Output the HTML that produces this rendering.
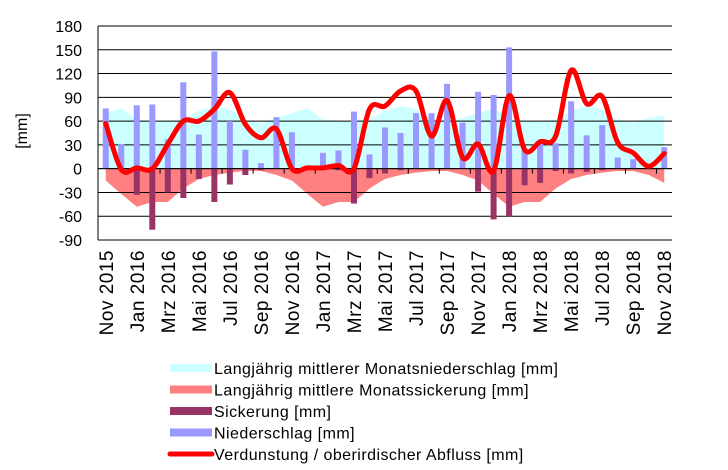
<!DOCTYPE html>
<html><head><meta charset="utf-8">
<style>
body{margin:0;background:#fff;font-family:"Liberation Sans",Arial,sans-serif;}
svg text{font-family:"Liberation Sans",Arial,sans-serif;}
</style></head>
<body>
<svg id="chart" width="728" height="465" xmlns="http://www.w3.org/2000/svg"></svg>
<script>
const months=["Nov 2015","Dez 2015","Jan 2016","Feb 2016","Mrz 2016","Apr 2016","Mai 2016","Jun 2016","Jul 2016","Aug 2016","Sep 2016","Okt 2016","Nov 2016","Dez 2016","Jan 2017","Feb 2017","Mrz 2017","Apr 2017","Mai 2017","Jun 2017","Jul 2017","Aug 2017","Sep 2017","Okt 2017","Nov 2017","Dez 2017","Jan 2018","Feb 2018","Mrz 2018","Apr 2018","Mai 2018","Jun 2018","Jul 2018","Aug 2018","Sep 2018","Okt 2018","Nov 2018"];
const niederschlag=[76,31,80,81,37,109,43,148,60,24,7,65,46,0,20,23,72,18,52,45,70,70,107,58,97,93,153,24,31,32,85,42,55,14,12,0,27];
const sickerung=[0,0,-33,-77,-30,-37,-13,-42,-20,-8,-2,0,0,0,0,-2,-44,-12,-6,-2,0,0,0,0,-29,-64,-60,-21,-18,-3,-6,-4,-2,0,0,0,0];
const verdunstung=[57,-1,1,0,31,60,60,75,96,56,39,50,0,1,1,4,0,75,79,98,98,41,86,14,31,-3,92,24,34,41,124,82,91,33,20,3,19];
const ltNiederschlag=[70,76,62,60,60,62,73,79,75,62,58,64,70,76,62,60,60,62,73,79,75,62,58,64,70,76,62,60,60,62,73,79,75,62,58,64,67];
const ltSickerung=[-15,-32,-48,-42,-42,-25,-13,-8,-5,-3,-3,-8,-15,-32,-48,-42,-42,-25,-13,-8,-5,-3,-3,-8,-15,-32,-48,-42,-42,-25,-13,-8,-5,-3,-3,-8,-18];
const yTicks=[180,150,120,90,60,30,0,-30,-60,-90];

const svg=document.getElementById('chart');
const NS="http://www.w3.org/2000/svg";
const L=98,R=672,T=26,B=240;
const n=months.length, cw=(R-L)/n;
const x=i=>L+cw*(i+0.5);
const y=v=>T+(180-v)*(B-T)/270;
function el(tag,attrs,parent){const e=document.createElementNS(NS,tag);for(const k in attrs)e.setAttribute(k,attrs[k]);(parent||svg).appendChild(e);return e;}

function area(vals,color,name){
  let d=`M${x(0)},${y(0)}`;
  vals.forEach((v,i)=>d+=` L${x(i)},${y(v)}`);
  d+=` L${x(n-1)},${y(0)} Z`;
  const p=el('path',{d:d,fill:color});
  
  
}
area(ltNiederschlag,'#ccffff','area-longterm-precipitation');
area(ltSickerung,'#ff8080','area-longterm-seepage');

yTicks.forEach(t=>{
  const g=el('line',{x1:L,x2:R,y1:y(t),y2:y(t),stroke:'#000','stroke-width':1});
  
  
  const tx=el('text',{x:82,y:y(t)+6,'text-anchor':'end','font-size':16});
  tx.textContent=t;
  
  
});
el('line',{x1:L,x2:L,y1:T,y2:B,stroke:'#000'});

niederschlag.forEach((v,i)=>{
  const b=el('rect',{x:x(i)-3,y:Math.min(y(v),y(0)),width:6,height:Math.abs(y(v)-y(0)),fill:'#9999ff'});
  
  
});
sickerung.forEach((v,i)=>{
  const b=el('rect',{x:x(i)-3,y:y(0),width:6,height:Math.abs(y(v)-y(0)),fill:'#993366'});
  
  
});

el('line',{x1:L,x2:R,y1:y(0),y2:y(0),stroke:'#000'});
for(let i=0;i<=n;i+=2){el('line',{x1:L+cw*i,x2:L+cw*i,y1:y(0),y2:y(0)+5,stroke:'#000'});}

months.forEach((m,i)=>{
  if(i%2)return;
  const t=el('text',{x:0,y:0,'text-anchor':'end','font-size':19,'letter-spacing':0.5,transform:`translate(${x(i)+7},250) rotate(-90)`});
  t.textContent=m;
  
  
});

const pts=verdunstung.map((v,i)=>[x(i),y(v)]);
let d=`M${pts[0][0]},${pts[0][1]}`;
for(let i=0;i<pts.length-1;i++){
  const p0=pts[Math.max(0,i-1)],p1=pts[i],p2=pts[i+1],p3=pts[Math.min(pts.length-1,i+2)];
  const c1=[p1[0]+(p2[0]-p0[0])/6,p1[1]+(p2[1]-p0[1])/6];
  const c2=[p2[0]-(p3[0]-p1[0])/6,p2[1]-(p3[1]-p1[1])/6];
  d+=` C${c1[0]},${c1[1]} ${c2[0]},${c2[1]} ${p2[0]},${p2[1]}`;
}
const ln=el('path',{d:d,fill:'none',stroke:'#ff0000','stroke-width':5,'stroke-linejoin':'round','stroke-linecap':'round'});



const yt=el('text',{x:0,y:0,'text-anchor':'middle','font-size':16,transform:'translate(27,131) rotate(-90)'});
yt.textContent='[mm]';



const leg=[['Langjährig mittlerer Monatsniederschlag [mm]','#ccffff','box'],['Langjährig mittlere Monatssickerung [mm]','#ff8080','box'],['Sickerung [mm]','#993366','box'],['Niederschlag [mm]','#9999ff','box'],['Verdunstung / oberirdischer Abfluss [mm]','#ff0000','line']];
leg.forEach((e,i)=>{
  const cy=368+i*21.5;
  const g=el('g',{});
  
  
  if(e[2]==='box') el('rect',{x:170,y:cy-4,width:42,height:8,fill:e[1]},g);
  else el('line',{x1:170,x2:212,y1:cy,y2:cy,stroke:e[1],'stroke-width':5,'stroke-linecap':'round'},g);
  const t=el('text',{x:214,y:cy+6,'font-size':16,'letter-spacing':0.45},g);
  t.textContent=e[0];
});
</script>
</body></html>
